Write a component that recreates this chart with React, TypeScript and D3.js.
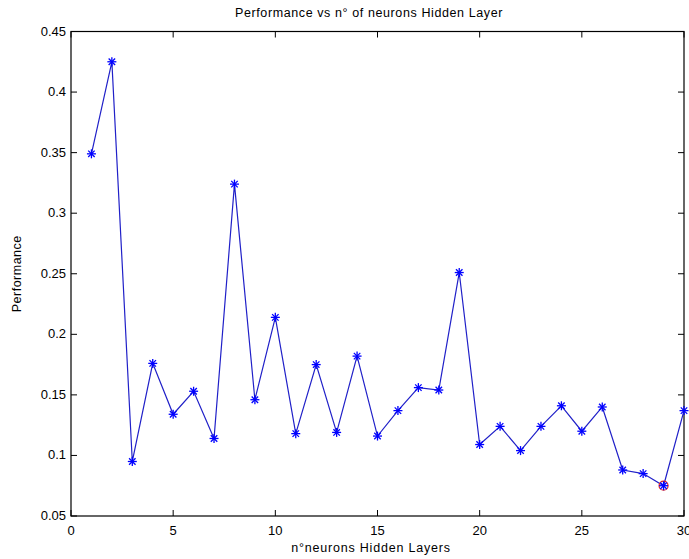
import React from "react";
import * as d3 from "d3";

const neurons = [1,2,3,4,5,6,7,8,9,10,11,12,13,14,15,16,17,18,19,20,21,22,23,24,25,26,27,28,29,30];
const performance = [0.349,0.425,0.095,0.176,0.134,0.153,0.114,0.324,0.146,0.214,0.118,0.175,0.119,0.182,0.116,0.137,0.156,0.154,0.251,0.109,0.124,0.104,0.124,0.141,0.120,0.140,0.088,0.085,0.075,0.137];
const bestIndex = 28;
const xTicks = [0,5,10,15,20,25,30];
const yTicks = [0.05,0.1,0.15,0.2,0.25,0.3,0.35,0.4,0.45];
const title = "Performance vs n° of neurons Hidden Layer";
const xLabel = "n°neurons Hidden Layers";
const yLabel = "Performance";

const W = 689, H = 559;
const M = { left: 71, right: 684, top: 31.5, bottom: 516 };

export default function App() {
  const x = d3.scaleLinear().domain([0, 30]).range([M.left, M.right]);
  const y = d3.scaleLinear().domain([0.05, 0.45]).range([M.bottom, M.top]);
  const line = d3.line<number>().x((_, i) => x(neurons[i])).y(d => y(d));
  const font = "'Liberation Sans', Arial, sans-serif";
  const tl = 6;
  const star = (cx: number, cy: number, key: number) => {
    const r = 4.5, d = r * 0.72;
    return (
      <g key={key} stroke="#0000ff" strokeWidth={1.3}>
        <line x1={cx - r} y1={cy} x2={cx + r} y2={cy} />
        <line x1={cx} y1={cy - r} x2={cx} y2={cy + r} />
        <line x1={cx - d} y1={cy - d} x2={cx + d} y2={cy + d} />
        <line x1={cx - d} y1={cy + d} x2={cx + d} y2={cy - d} />
      </g>
    );
  };
  return (
    <svg width={W} height={H} style={{ position: "absolute", left: 0, top: 0, background: "#fff" }}>
      <rect x={0} y={0} width={W} height={H} fill="#fff" />
      <g stroke="#000" strokeWidth={1}>
        {xTicks.map(t => (
          <g key={"xt" + t}>
            <line x1={x(t)} x2={x(t)} y1={M.bottom} y2={M.bottom - tl} />
            <line x1={x(t)} x2={x(t)} y1={M.top} y2={M.top + tl} />
          </g>
        ))}
        {yTicks.map(t => (
          <g key={"yt" + t}>
            <line x1={M.left} x2={M.left + tl} y1={y(t)} y2={y(t)} />
            <line x1={M.right} x2={M.right - tl} y1={y(t)} y2={y(t)} />
          </g>
        ))}
        <rect x={M.left} y={M.top} width={M.right - M.left} height={M.bottom - M.top} fill="none" strokeWidth={1.2} />
      </g>
      <path d={line(performance) || ""} fill="none" stroke="#2020c8" strokeWidth={1.2} />
      <circle cx={x(neurons[bestIndex])} cy={y(performance[bestIndex])} r={4.5} fill="none" stroke="#e02020" strokeWidth={1.2} />
      {performance.map((v, i) => star(x(neurons[i]), y(v), i))}
      <g fontFamily={font} fontSize={13} fill="#000">
        {xTicks.map(t => (
          <text key={"xl" + t} x={x(t)} y={M.bottom + 19} textAnchor="middle">{t}</text>
        ))}
        {yTicks.map(t => (
          <text key={"yl" + t} x={M.left - 5} y={y(t) + 4} textAnchor="end">{String(t)}</text>
        ))}
        <text x={371} y={552} textAnchor="middle" fontSize={12.5} letterSpacing={0.8}>{xLabel}</text>
        <text transform={`translate(21,${(M.top + M.bottom) / 2}) rotate(-90)`} textAnchor="middle" fontSize={12.5} letterSpacing={0.5}>{yLabel}</text>
        <text x={369} y={17} textAnchor="middle" fontSize={12.5} letterSpacing={0.6}>{title}</text>
      </g>
    </svg>
  );
}
